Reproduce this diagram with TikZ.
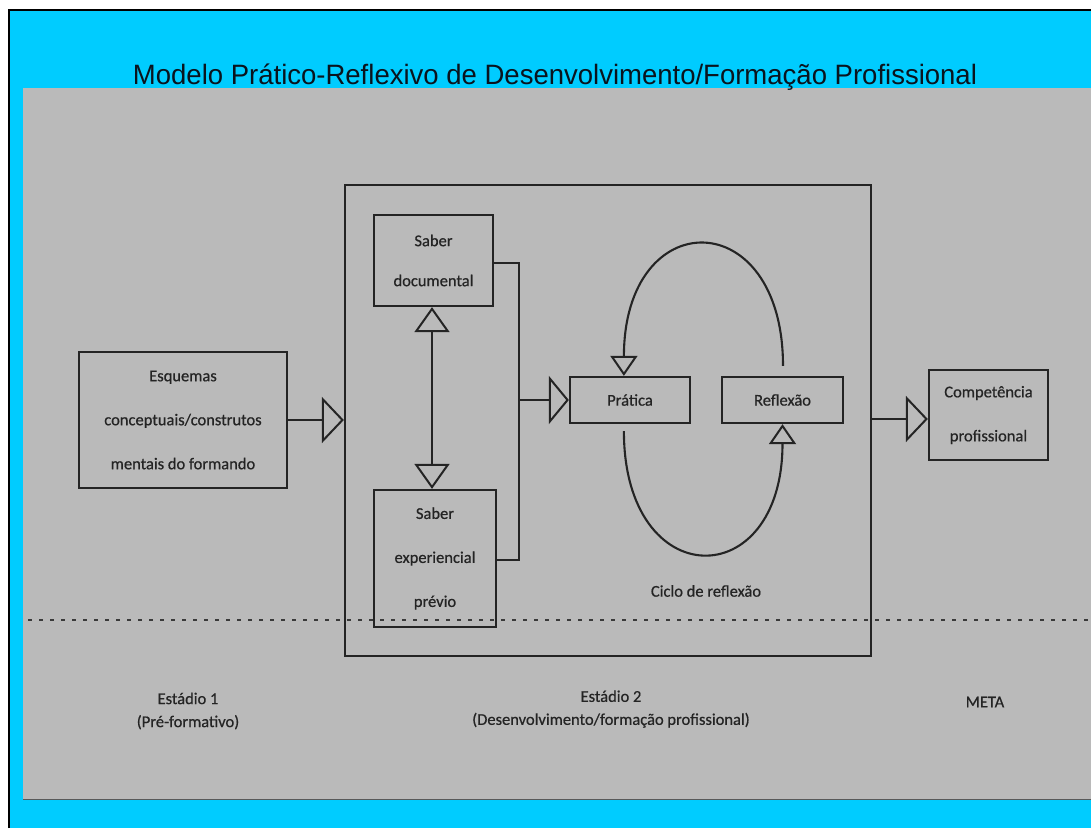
\documentclass[tikz,border=0pt]{standalone}
\usepackage{fontspec}
\usepackage{graphicx}
\setmainfont[FakeBold=0.6]{Carlito}
\newfontfamily\titlefont{Liberation Sans}
\usetikzlibrary{arrows.meta,calc}
\definecolor{cyanbg}{RGB}{0,204,255}
\definecolor{graybg}{RGB}{186,186,186}
\definecolor{ink}{RGB}{36,36,36}
\definecolor{titleink}{RGB}{10,20,30}
\newcommand\lbl{\fontsize{16.5}{44}\selectfont}
\newcommand\lbls{\fontsize{16.5}{23}\selectfont}
\begin{document}
\begin{tikzpicture}[x=1pt,y=-1pt,
  box/.style={draw=ink, line width=2.3pt, rectangle, inner sep=0pt, align=center, font=\lbl, text=ink},
  lab/.style={align=center, font=\lbls, text=ink, inner sep=0pt},
  conn/.style={draw=ink, line width=2.1pt},
  bigtip/.style={-{Triangle[open, length=22pt, width=46pt, line width=2pt]}},
  dbltip/.style={{Triangle[open, length=25pt, width=35pt, line width=2pt]}-{Triangle[open, length=25pt, width=35pt, line width=2pt]}},
  looptip/.style={-{Triangle[open, length=20pt, width=27pt, line width=2pt]}}
]
\useasboundingbox (0,0) rectangle (1091,828);
% backgrounds
\fill[white] (0,0) rectangle (1091,828);
\fill[cyanbg] (9,11) rectangle (1091,828);
\fill[graybg] (23,88) rectangle (1091,799);
\draw[gray!70!black, line width=0.8pt] (23,799) -- (1091,799);
\draw[black, line width=2pt] (9,828) -- (9,10) -- (1091,10);
% title
\node (title) [anchor=base, text=titleink, inner sep=0pt] at (555,84)
  {\resizebox{844pt}{\height}{\titlefont\fontsize{28}{28}\selectfont Modelo Prático-Reflexivo de Desenvolvimento/Formação Profissional}};
% scan artefact line
\draw[gray!45!black, line width=1.1pt, dash pattern=on 4pt off 7pt] (28,620) -- (1091,620);
% boxes
\node (esq) [box, minimum width=208pt, minimum height=136pt] at (183,420)
  {Esquemas\\conceptuais/construtos\\mentais do formando};
\node (big) [box, minimum width=526pt, minimum height=471pt] at (608,420.5) {};
\node (sd) [box, minimum width=119pt, minimum height=91pt] at (433.5,260.5)
  {Saber\\[-4pt]documental};
\node (se) [box, minimum width=122pt, minimum height=137pt] at (435,558.5)
  {Saber\\experiencial\\prévio};
\node (pr) [box, minimum width=120pt, minimum height=46pt] at (630,400) {Prática};
\node (rf) [box, minimum width=121pt, minimum height=46pt] at (782.5,400) {Reflexão};
\node (comp) [box, minimum width=119pt, minimum height=90pt] at (988.5,415)
  {Competência\\profissional};
% labels
\node (ciclo) [lab] at (706,591) {Ciclo de reflexão};
\node (est1) [lab] at (188,711) {Estádio 1\\(Pré-formativo)};
\node (est2) [lab] at (611,709) {Estádio 2\\(Desenvolvimento/formação profissional)};
\node (meta) [lab] at (985,702) {META};
% connectors
\draw[conn, bigtip] (esq.east) -- (esq.east -| big.west);
\draw[conn, dbltip] (sd.south -| 432,0) -- (se.north -| 432,0);
\coordinate (jt) at (519,263);
\coordinate (jb) at (519,560);
\coordinate (jm) at (519,400);
\draw[conn] (sd.east |- jt) -- (jt) -- (jb) -- (se.east |- jb);
\draw[conn, -{Triangle[open, length=20pt, width=48pt, line width=2pt]}] (jm) -- (pr.west);
\draw[conn, bigtip] (big.east |- 0,419) -- (comp.west |- 0,419);
% reflection cycle
\coordinate (lt) at ($(rf.north)+(0.5,-10)$);
\coordinate (ptop) at ($(pr.north west)!0.45!(pr.north east)$);
\coordinate (pb) at ($(pr.south west)!0.45!(pr.south east)+(0,7)$);
\draw[conn, looptip] (lt) .. controls (783,203) and (624,203) .. (ptop);
\draw[conn, looptip] (pb) .. controls (624,595) and (782.5,595) .. (rf.south);
\end{tikzpicture}
\end{document}
